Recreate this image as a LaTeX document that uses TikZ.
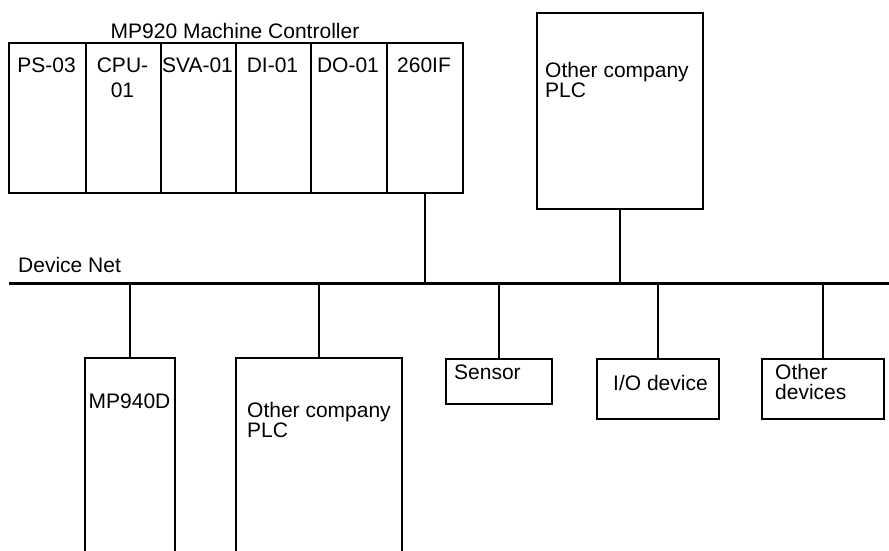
\documentclass[tikz,border=0pt]{standalone}
\usepackage{fontspec}
\setmainfont{Liberation Sans}
\begin{document}
\begin{tikzpicture}[x=1pt,y=-1pt,
  box/.style={draw,line width=1.8pt,inner sep=0pt,anchor=north west},
  lbl/.style={font=\fontsize{21}{20}\selectfont,inner sep=0pt},
  wire/.style={line width=2pt},
  busline/.style={line width=3pt}]
\useasboundingbox (0,0) rectangle (889,550);
\clip (0,0) rectangle (889,550);
% MP920 modules
\node[box,minimum width=77pt,minimum height=150pt] (ps) at (8,42) {};
\node[box,minimum width=75pt,minimum height=150pt] (cpu) at (85,42) {};
\node[box,minimum width=75pt,minimum height=150pt] (sva) at (160,42) {};
\node[box,minimum width=75pt,minimum height=150pt] (di) at (235,42) {};
\node[box,minimum width=76pt,minimum height=150pt] (do) at (310,42) {};
\node[box,minimum width=76pt,minimum height=150pt] (if) at (386,42) {};
\node[lbl,anchor=base] (title) at (235,38) {MP920 Machine Controller};
\node[lbl,anchor=base] (tps) at (46.5,72) {PS-03};
\node[lbl,anchor=base] (tcpu) at (122.5,72) {CPU-};
\node[lbl,anchor=base] (tcpub) at (122.5,97) {01};
\node[lbl,anchor=base] (tsva) at (197.5,72) {SVA-01};
\node[lbl,anchor=base] (tdi) at (272.5,72) {DI-01};
\node[lbl,anchor=base] (tdo) at (348,72) {DO-01};
\node[lbl,anchor=base] (tif) at (424,72) {260IF};
% top other PLC
\node[box,minimum width=166pt,minimum height=196pt] (plct) at (536,12) {};
\node[lbl,anchor=base west] (tplct) at (545,77) {Other company};
\node[lbl,anchor=base west] (tplctb) at (545,97) {PLC};
% bus
\coordinate (busL) at (9,283);
\coordinate (busR) at (889,283);
\draw[busline] (busL) -- (busR);
\node[lbl,anchor=base west] (tnet) at (18,272) {Device Net};
% bottom devices
\node[box,minimum width=90pt,minimum height=220pt] (mp940) at (84,357) {};
\node[lbl,anchor=base] (tmp940) at (129.5,408) {MP940D};
\node[box,minimum width=166pt,minimum height=220pt] (plcb) at (235,357) {};
\node[lbl,anchor=base west] (tplcb) at (247,417) {Other company};
\node[lbl,anchor=base west] (tplcbb) at (247,437) {PLC};
\node[box,minimum width=106pt,minimum height=45pt] (sensor) at (445,358) {};
\node[lbl,anchor=base west] (tsensor) at (454,379) {Sensor};
\node[box,minimum width=122pt,minimum height=60pt] (io) at (596,358) {};
\node[lbl,anchor=base west] (tio) at (613,390) {I/O device};
\node[box,minimum width=122pt,minimum height=60pt] (oth) at (761,358) {};
\node[lbl,anchor=base west] (toth) at (775,379) {Other};
\node[lbl,anchor=base west] (tothb) at (775,399) {devices};
% connectors
\draw[wire] (if.south) -- (if.south |- busL);
\draw[wire] (plct.south) -- (plct.south |- busL);
\draw[wire] (mp940.north) -- (mp940.north |- busL);
\draw[wire] (plcb.north) -- (plcb.north |- busL);
\draw[wire] (sensor.north) -- (sensor.north |- busL);
\draw[wire] (io.north) -- (io.north |- busL);
\draw[wire] (oth.north) -- (oth.north |- busL);
\end{tikzpicture}
\end{document}
